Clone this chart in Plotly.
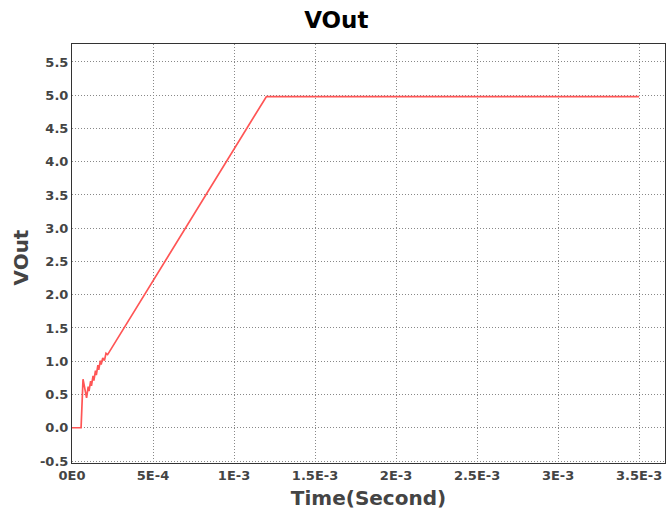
import plotly.graph_objects as go

# simulated output voltage (seconds, volts)
time_s = [0, 5.6e-5, 6.8e-5, 9.0e-5, 1.0e-4, 1.05e-4, 1.15e-4, 1.2e-4, 1.3e-4,
          1.35e-4, 1.45e-4, 1.5e-4, 1.6e-4, 1.65e-4, 1.75e-4, 1.8e-4, 1.9e-4,
          2.0e-4, 2.1e-4, 2.2e-4, 1.2e-3, 3.5e-3]
vout = [0, 0, 0.73, 0.45, 0.62, 0.55, 0.70, 0.63, 0.78, 0.71, 0.86, 0.79,
        0.94, 0.87, 1.01, 0.95, 1.05, 1.01, 1.12, 1.10, 4.98, 4.98]

xTickVals = [0, 5e-4, 1e-3, 1.5e-3, 2e-3, 2.5e-3, 3e-3, 3.5e-3]
xTickText = ['0E0', '5E-4', '1E-3', '1.5E-3', '2E-3', '2.5E-3', '3E-3', '3.5E-3']
yTickVals = [-0.5, 0.0, 0.5, 1.0, 1.5, 2.0, 2.5, 3.0, 3.5, 4.0, 4.5, 5.0, 5.5]

fig = go.Figure(go.Scatter(
    x=time_s, y=vout, mode='lines',
    line=dict(color='rgb(255,85,85)', width=1.7)))

fig.update_layout(
    width=666, height=510,
    margin=dict(l=72, r=1, t=44, b=47),
    paper_bgcolor='white', plot_bgcolor='white',
    showlegend=False,
    font=dict(family='DejaVu Sans', color='#444'),
    title=dict(text='<b>VOut</b>', x=0.505, xanchor='center', y=0.976, yanchor='top',
               font=dict(size=23, color='black')))

fig.update_xaxes(
    range=[0, 3.66e-3], tickvals=xTickVals,
    ticktext=['<b>%s</b>' % t for t in xTickText],
    tickfont=dict(size=13, color='#444'),
    title=dict(text='<b>Time(Second)</b>', font=dict(size=20, color='#444')),
    showgrid=True, gridcolor='#888', griddash='1px,2px', gridwidth=1,
    showline=True, linecolor='#333', linewidth=1, mirror=True,
    ticks='', zeroline=False, automargin=False)
fig.update_yaxes(
    range=[-0.53, 5.77], tickvals=yTickVals,
    ticktext=['<b>%.1f</b>' % v for v in yTickVals],
    tickfont=dict(size=13, color='#444'),
    showgrid=True, gridcolor='#888', griddash='1px,2px', gridwidth=1,
    showline=True, linecolor='#333', linewidth=1, mirror=True,
    ticks='', zeroline=False, automargin=False)

# y axis title placed by hand so it sits where the reference has it
fig.add_annotation(text='<b>VOut</b>', xref='paper', yref='paper', x=0, y=0.5,
                   xanchor='center', yanchor='middle', xshift=-52, yshift=-4,
                   textangle=-90, showarrow=False,
                   font=dict(size=20, color='#444'))

# drop the default page margin so the figure sits at the window corner
fig.write_html("out.html", config={'displayModeBar': False},
               post_script="document.body.style.margin='0';")
